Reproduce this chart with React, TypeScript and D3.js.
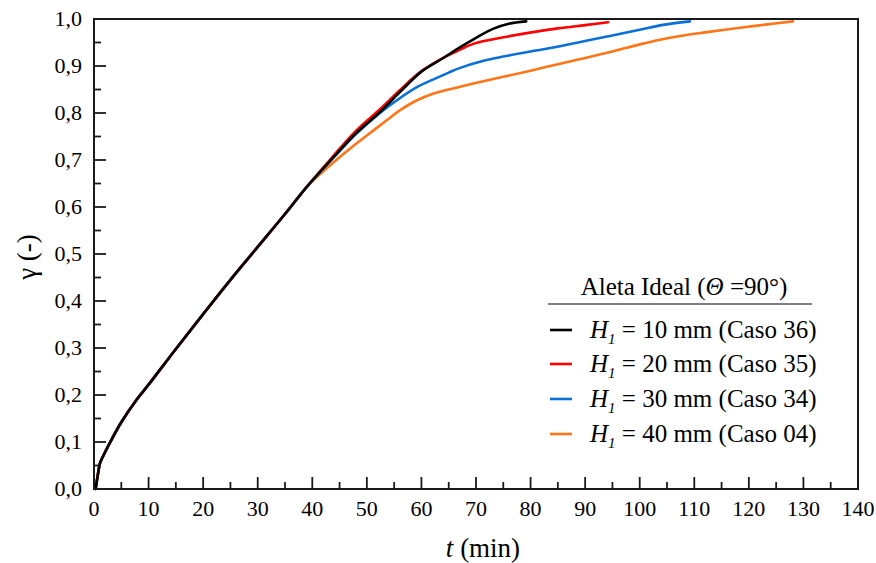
import React, { useEffect } from "react";
import * as d3 from "d3";

// ---- data ----
const commonT = [0.3, 0.7, 1.1, 1.6, 2.9, 5.0, 7.8, 10, 15, 20, 25, 30, 35, 39];
const commonG = [0.0, 0.03, 0.055, 0.068, 0.098, 0.142, 0.19, 0.222, 0.298, 0.372, 0.445, 0.515, 0.585, 0.643];

const blackT = [43.8, 48, 52.4, 56.1, 60, 64, 67.1, 70, 73.1, 76, 79.2];
const blackG = [0.705, 0.757, 0.802, 0.845, 0.888, 0.917, 0.94, 0.96, 0.979, 0.99, 0.995];

const redT = [43.8, 48, 52.4, 56.1, 60, 64.6, 67.1, 69, 70.7, 75, 79.3, 85, 90, 94.2];
const redG = [0.708, 0.762, 0.808, 0.849, 0.889, 0.921, 0.935, 0.945, 0.951, 0.961, 0.970, 0.98, 0.987, 0.993];

const blueT = [43.8, 48, 52.4, 56.1, 59, 62.1, 65, 67.1, 70.7, 75, 80, 85.4, 90, 95, 100, 104, 109.2];
const blueG = [0.704, 0.755, 0.8, 0.832, 0.854, 0.871, 0.886, 0.896, 0.909, 0.92, 0.931, 0.942, 0.953, 0.965, 0.977, 0.987, 0.995];

const orangeT = [43.8, 47, 50, 53.7, 56.1, 59, 62.1, 67.1, 70.7, 75, 80, 85.4, 90, 95, 100, 103.7, 107.4, 112.3, 118, 123, 128.1];
const orangeG = [0.694, 0.725, 0.752, 0.785, 0.806, 0.826, 0.841, 0.856, 0.866, 0.877, 0.89, 0.905, 0.917, 0.931, 0.946, 0.956, 0.964, 0.972, 0.981, 0.988, 0.995];

const seriesNames = ["10 mm (Caso 36)", "20 mm (Caso 35)", "30 mm (Caso 34)", "40 mm (Caso 04)"];
const seriesColors = ["#000000", "#FF0000", "#0A6FD6", "#FF7518"];

const xTicks = d3.range(0, 141, 10);
const xMinor = d3.range(5, 140, 10);
const yTicks = d3.range(0, 1.0001, 0.1);
const yMinor = d3.range(0.05, 1, 0.1);

const W = 876, H = 563;
const L = 94, R = 858, T = 19, B = 489;
const FS = { fontFamily: "Liberation Serif" };

export default function App() {
  useEffect(() => {
    document.body.style.margin = "0";
  }, []);

  const x = d3.scaleLinear().domain([0, 140]).range([L, R]);
  const y = d3.scaleLinear().domain([0, 1]).range([B, T]);
  const line = d3
    .line<[number, number]>()
    .x((d) => x(d[0]))
    .y((d) => y(d[1]))
    .curve(d3.curveCatmullRom.alpha(0.5));

  const build = (ts: number[], gs: number[]): [number, number][] => [
    ...commonT.map((t, i) => [t, commonG[i]] as [number, number]),
    ...ts.map((t, i) => [t, gs[i]] as [number, number]),
  ];

  const data = [
    build(blackT, blackG),
    build(redT, redG),
    build(blueT, blueG),
    build(orangeT, orangeG),
  ];
  const drawOrder = [3, 2, 1, 0];
  const fmt = (v: number) => d3.format(".1f")(v).replace(".", ",");
  const legendY = [330, 364, 399, 434];

  return (
    <svg width={W} height={H} style={{ display: "block" }}>
      <rect width={W} height={H} fill="#fff" />
      {drawOrder.map((i) => (
        <path key={i} d={line(data[i]) || ""} fill="none" stroke={seriesColors[i]} strokeWidth={2.6} strokeLinejoin="round" strokeLinecap="round" />
      ))}
      {/* frame */}
      <rect x={L} y={T} width={R - L} height={B - T} fill="none" stroke="#1a1a1a" strokeWidth={2} />
      {/* x ticks */}
      {xTicks.map((t) => (
        <g key={"xt" + t}>
          {t > 0 && t < 140 && <line x1={x(t)} x2={x(t)} y1={B} y2={B - 12} stroke="#1a1a1a" strokeWidth={1.8} />}
          <text x={x(t)} y={B + 27} fontSize={22} style={FS} textAnchor="middle" fill="#000">{t}</text>
        </g>
      ))}
      {xMinor.map((t) => (
        <line key={"xm" + t} x1={x(t)} x2={x(t)} y1={B} y2={B - 7} stroke="#1a1a1a" strokeWidth={1.8} />
      ))}
      {/* y ticks */}
      {yTicks.map((v, i) => (
        <g key={"yt" + i}>
          {i > 0 && i < 10 && <line x1={L} x2={L + 12} y1={y(v)} y2={y(v)} stroke="#1a1a1a" strokeWidth={1.8} />}
          <text x={82} y={y(v) + 7} fontSize={22} style={FS} textAnchor="end" fill="#000">{fmt(v)}</text>
        </g>
      ))}
      {yMinor.map((v, i) => (
        <line key={"ym" + i} x1={L} x2={L + 7} y1={y(v)} y2={y(v)} stroke="#1a1a1a" strokeWidth={1.8} />
      ))}
      {/* axis labels */}
      <text x={483} y={557} fontSize={27} style={FS} textAnchor="middle" fill="#000">
        <tspan fontStyle="italic">t</tspan> (min)
      </text>
      <text transform="translate(36,257) rotate(-90)" fontSize={27} style={FS} textAnchor="middle" fill="#000">
        γ  (-)
      </text>
      {/* legend */}
      <text x={684} y={295} fontSize={25} style={FS} textAnchor="middle" fill="#000">
        Aleta Ideal (<tspan fontStyle="italic">Θ</tspan> =90°)
      </text>
      <line x1={548} x2={812} y1={304} y2={304} stroke="#000" strokeWidth={1.2} />
      {seriesNames.map((n, i) => (
        <g key={"lg" + i}>
          <line x1={550} x2={572} y1={legendY[i]} y2={legendY[i]} stroke={seriesColors[i]} strokeWidth={2.6} />
          <text x={590} y={legendY[i] + 8} fontSize={25} style={FS} fill="#000">
            <tspan fontStyle="italic">H</tspan>
            <tspan fontStyle="italic" fontSize={15} dy={6}>1</tspan>
            <tspan dy={-6}>{" = " + n}</tspan>
          </text>
        </g>
      ))}
    </svg>
  );
}
